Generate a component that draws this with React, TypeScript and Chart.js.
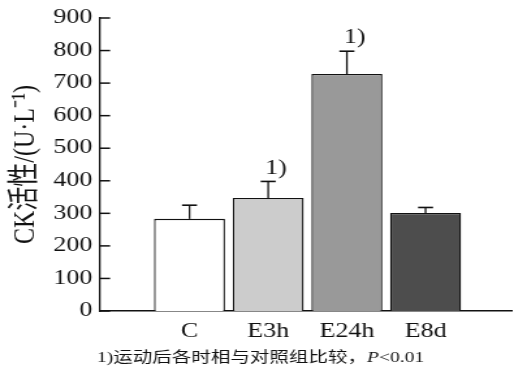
import React, { useEffect, useRef } from "react";
import { Chart, registerables } from "chart.js";

Chart.register(...registerables);

const categories = ["C", "E3h", "E24h", "E8d"];
const means = [283, 347, 728, 301];
const errors = [42, 51, 70, 17];
const significant = [false, true, true, false];
const barColors = ["#ffffff", "#cccccc", "#999999", "#4d4d4d"];
const yTicks = [0, 100, 200, 300, 400, 500, 600, 700, 800, 900];
const yTitle = "CK活性/(U·L⁻¹)";
const sigMark = "1)";
const footnoteText = "1)运动后各时相与对照组比较，";
const footnoteP = "P";
const footnoteRest = "<0.01";

const PAGE_W = 514;
const PAGE_H = 371;
const STRETCH = 1.3;
const W = Math.round(PAGE_W / STRETCH);
const H = PAGE_H;
const SERIF = "'Liberation Serif', 'Times New Roman', 'Noto Sans CJK SC', serif";
const INK = "#111";

const overlay = {
  id: "overlay",
  afterDatasetsDraw(chart: any) {
    const ctx = chart.ctx;
    const y = chart.scales.y;
    const meta = chart.getDatasetMeta(0);
    ctx.save();
    ctx.strokeStyle = INK;
    const ax = chart.chartArea.left;
    ctx.lineWidth = 1.5;
    yTicks.forEach((v) => {
      const py = y.getPixelForValue(v);
      ctx.beginPath();
      ctx.moveTo(ax, py);
      ctx.lineTo(ax + 10 / STRETCH, py);
      ctx.stroke();
    });
    meta.data.forEach((bar: any, i: number) => {
      const top = y.getPixelForValue(means[i] + errors[i]);
      const cx = bar.x;
      ctx.lineWidth = 1.3;
      ctx.beginPath();
      ctx.moveTo(cx, bar.y);
      ctx.lineTo(cx, top);
      ctx.stroke();
      ctx.lineWidth = 1.6;
      ctx.beginPath();
      ctx.moveTo(cx - 7.5 / STRETCH, top);
      ctx.lineTo(cx + 7.5 / STRETCH, top);
      ctx.stroke();
      if (significant[i]) {
        ctx.fillStyle = INK;
        ctx.font = `20px ${SERIF}`;
        ctx.textAlign = "left";
        ctx.textBaseline = "bottom";
        ctx.fillText(sigMark, cx - 3 / STRETCH, top - 3);
      }
    });
    ctx.restore();
  },
  afterDraw(chart: any) {
    const ctx = chart.ctx;
    ctx.save();
    ctx.fillStyle = INK;
    ctx.textBaseline = "alphabetic";
    ctx.textAlign = "left";
    let x = 97 / STRETCH;
    const by = 362;
    ctx.font = `15px ${SERIF}`;
    ctx.fillText(footnoteText, x, by);
    x += ctx.measureText(footnoteText).width;
    ctx.font = `italic 15px ${SERIF}`;
    ctx.fillText(footnoteP, x, by);
    x += ctx.measureText(footnoteP).width;
    ctx.font = `15px ${SERIF}`;
    ctx.fillText(footnoteRest, x, by);
    ctx.restore();
  },
};

export default function App() {
  const ref = useRef<HTMLCanvasElement | null>(null);
  useEffect(() => {
    const canvas = ref.current;
    if (!canvas) return;
    const chart = new Chart(canvas, {
      type: "bar",
      data: {
        datasets: [
          {
            data: categories.map((c, i) => ({ x: i, y: means[i] })),
            backgroundColor: barColors,
            borderColor: INK,
            borderWidth: 1.3,
            barPercentage: 0.902,
            categoryPercentage: 1,
          },
        ],
      },
      options: {
        responsive: false,
        animation: false,
        devicePixelRatio: 1,
        layout: { padding: { top: 15.5, right: 1.5, bottom: 0, left: 0 } },
        plugins: { legend: { display: false }, tooltip: { enabled: false } },
        scales: {
          x: {
            type: "linear",
            offset: false,
            min: -1.136,
            max: 4.099,
            grid: { display: false, drawTicks: false },
            border: { display: true, color: INK, width: 1.5 },
            afterBuildTicks: (axis: any) => {
              axis.ticks = categories.map((_, i) => ({ value: i }));
            },
            afterFit: (s: any) => {
              s.height = H - 311;
            },
            ticks: {
              autoSkip: false,
              maxRotation: 0,
              padding: 9,
              color: INK,
              font: { family: SERIF, size: 20 },
              callback: (v: any) => categories[v] ?? "",
            },
          },
          y: {
            min: 0,
            max: 900,
            grid: { display: false, drawTicks: false },
            border: { display: true, color: INK, width: 1.3 },
            afterBuildTicks: (axis: any) => {
              axis.ticks = yTicks.map((v) => ({ value: v }));
            },
            afterFit: (s: any) => {
              s.width = 100 / STRETCH;
            },
            ticks: {
              padding: 6,
              color: INK,
              font: { family: SERIF, size: 20 },
            },
            title: {
              display: true,
              text: yTitle,
              color: INK,
              font: { family: SERIF, size: 24 },
              padding: { top: 5, bottom: 0 },
            },
          },
        },
      },
      plugins: [overlay],
    } as any);
    return () => chart.destroy();
  }, []);
  return (
    <canvas
      ref={ref}
      width={W}
      height={H}
      style={{
        position: "absolute",
        left: 0,
        top: 0,
        width: PAGE_W + "px",
        height: PAGE_H + "px",
      }}
    />
  );
}
